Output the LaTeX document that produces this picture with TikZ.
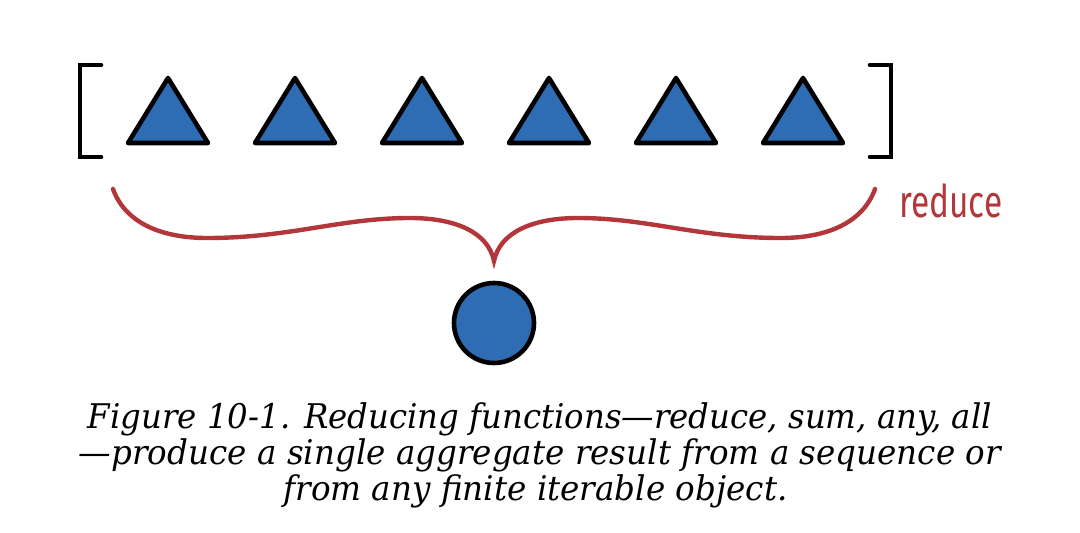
\documentclass[tikz,border=0pt]{standalone}
\usepackage{fontspec}
\usepackage{graphicx}
\newfontfamily\capfont{DejaVu Serif}
\newfontfamily\redfont{Fira Sans}
\definecolor{triblue}{HTML}{2E6DB4}
\definecolor{bracered}{HTML}{B3373A}
\tikzset{
  shapestroke/.style={draw=black, line width=4.6pt, line join=round, fill=triblue},
  bracketline/.style={draw=black, line width=4.6pt, line cap=round, line join=miter},
  braceline/.style={draw=bracered, line width=4.4pt, line cap=round},
  captext/.style={anchor=base, inner sep=0pt, font=\capfont\itshape\fontsize{34}{40}\selectfont},
  redlabel/.style={anchor=base west, inner sep=0pt, text=bracered, font=\redfont\fontsize{45}{50}\selectfont}
}
\begin{document}
\begin{tikzpicture}[x=1pt,y=-1pt]
\useasboundingbox (0,0) rectangle (1080,533);
% brackets
\coordinate (lbT) at (101,65); \coordinate (lbB) at (101,157);
\draw[bracketline] (lbT) -- (80,65) -- (80,157) -- (lbB);
\coordinate (rbT) at (870,65); \coordinate (rbB) at (870,157);
\draw[bracketline] (rbT) -- (891,65) -- (891,157) -- (rbB);
% triangles
\foreach \i in {0,...,5}{
  \pgfmathsetmacro{\cx}{168+127*\i}
  \coordinate (t\i) at (\cx,110);
  \draw[shapestroke] (\cx,78) -- (\cx+40,143) -- (\cx-40,143) -- cycle;
}
% brace
\coordinate (bl) at (113,189);
\coordinate (br) at (875,189);
\coordinate (cusp) at (494,261);
\draw[braceline] (bl) .. controls (126,225) and (165,238) .. (207,238)
  .. controls (290,238) and (340,218) .. (410,218)
  .. controls (455,218) and (488,232) .. (cusp)
  .. controls (500,232) and (533,218) .. (578,218)
  .. controls (648,218) and (698,238) .. (781,238)
  .. controls (823,238) and (862,225) .. (br);
% result circle
\node[shapestroke, circle, minimum size=80pt, inner sep=0pt] (res) at (494,323) {};
% label
\node[redlabel] (lab) at (899,217) {\resizebox{103pt}{\height}{reduce}};
% caption
\node[captext] (cap1) at (540,428) {\resizebox{904pt}{\height}{Figure 10-1. Reducing functions—reduce, sum, any, all}};
\node[captext] (cap2) at (540,464) {\resizebox{922pt}{\height}{—produce a single aggregate result from a sequence or}};
\node[captext] (cap3) at (535.5,500) {\resizebox{504pt}{\height}{from any finite iterable object.}};
\end{tikzpicture}
\end{document}
